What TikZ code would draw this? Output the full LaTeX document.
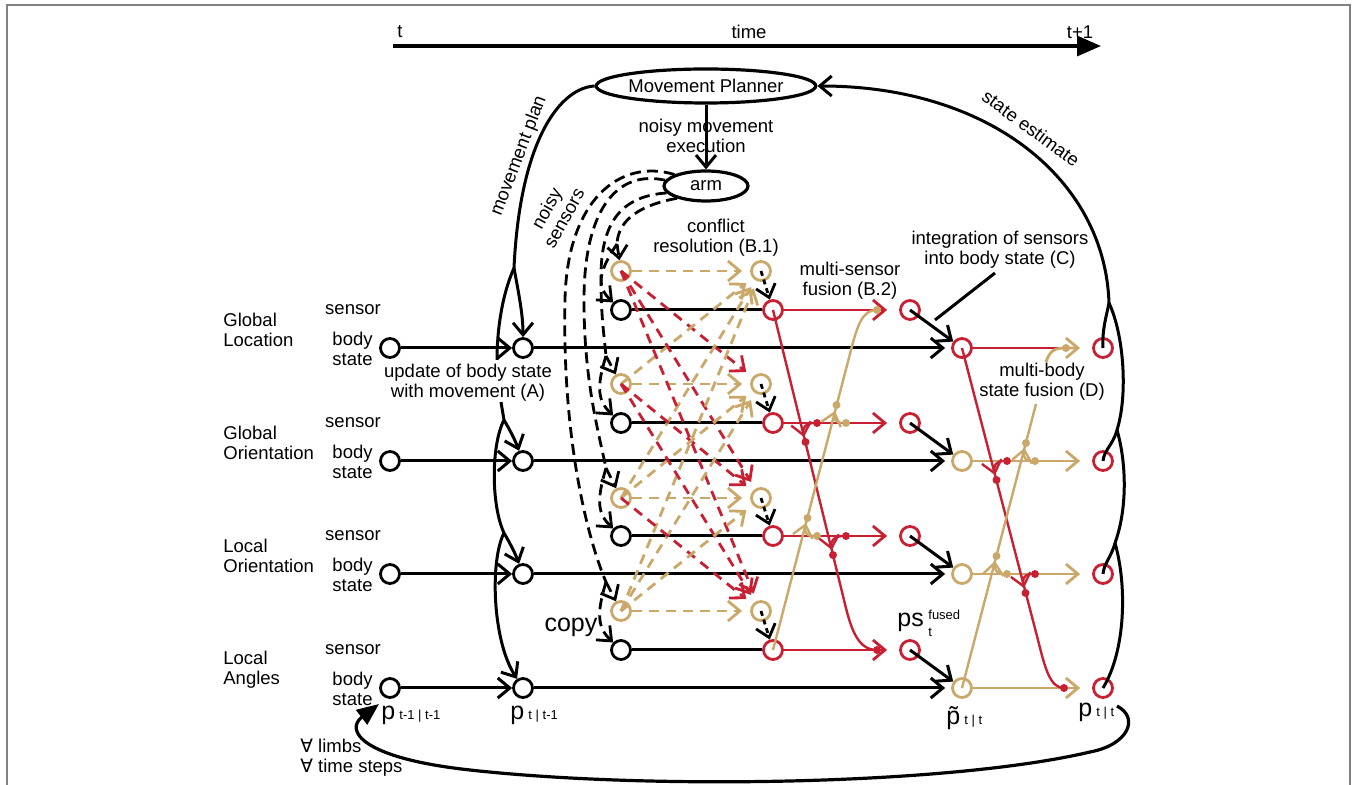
\documentclass[tikz,border=0pt]{standalone}
\usepackage{fontspec}
\setmainfont{Liberation Sans}
\newfontfamily\dejavu{DejaVu Sans}
\usetikzlibrary{arrows.meta,shapes.geometric}
\definecolor{fred}{RGB}{200,32,50}
\definecolor{ftan}{RGB}{201,168,106}
\definecolor{fgray}{RGB}{130,130,130}
\begin{document}
\begin{tikzpicture}[x=0.5pt,y=-0.5pt,
  >={Straight Barb[length=6pt,width=10pt]},
  circ/.style={circle,draw,line width=1.4pt,minimum size=9.5pt,inner sep=0pt,fill=white},
  bc/.style={circ,draw=black},
  rc/.style={circ,draw=fred},
  tc/.style={circ,draw=ftan},
  txt/.style={font=\fontsize{9.25}{10}\selectfont,inner sep=0pt,align=center},
  big/.style={font=\fontsize{12.5}{13}\selectfont,inner sep=0pt},
  small/.style={font=\fontsize{6.5}{7}\selectfont,inner sep=0pt},
  blk/.style={line width=1.5pt,black},
  bdash/.style={line width=1.4pt,black,dash pattern=on 5.5pt off 3pt},
  bdot/.style={line width=1.4pt,black,dash pattern=on 2.5pt off 2pt},
  rdash/.style={line width=1.4pt,fred,dash pattern=on 5pt off 3.5pt},
  tdash/.style={line width=1.4pt,ftan,dash pattern=on 5pt off 3.5pt},
  rline/.style={line width=1.2pt,fred},
  tline/.style={line width=1.2pt,ftan},
  rdot/.style={circle,fill=fred,inner sep=0pt,minimum size=4pt},
  tdot/.style={circle,fill=ftan,inner sep=0pt,minimum size=4pt},
  ellnode/.style={ellipse,draw,line width=1.6pt,inner sep=0pt,fill=white,font=\fontsize{9.25}{10}\selectfont},
]
\useasboundingbox (0,0) rectangle (1357,785);
% frame
\draw[fgray,line width=0.8pt] (7,785) -- (7,5) -- (1350,5) -- (1350,785);

% time axis
\coordinate (t0) at (393,46);
\coordinate (t1) at (1101,46);
\draw[line width=1.7pt,-{Triangle[length=12pt,width=10pt]}] (t0) -- (t1);
\node[txt] (lt) at (400,32) {t};
\node[txt] (ltime) at (749,32) {time};
\node[txt] (lt1) at (1080,32) {t+1};

% planner and arm
\node[ellnode,minimum width=99pt,minimum height=17pt] (MP) at (706,86) {Movement Planner};
\node[ellnode,minimum width=42pt,minimum height=15pt] (arm) at (706,186) {arm};
\draw[blk,->] (MP) -- (arm);
\node[txt] (nme) at (706,136) {noisy movement\\execution};

% row nodes
\foreach \i/\yb/\ys/\yc in {1/348/310/271,2/461/423/384,3/574/536/498,4/688/650/611}{
  \node[bc] (bL\i) at (390,\yb) {};
  \node[bc] (bM\i) at (523,\yb) {};
  \node[bc] (sB\i) at (621,\ys) {};
  \node[tc] (cT\i) at (621,\yc) {};
  \node[tc] (rT\i) at (761,\yc) {};
  \node[rc] (rS\i) at (773,\ys) {};
  \node[rc] (fS\i) at (910,\ys) {};
  \node[rc] (pF\i) at (1103,\yb) {};
  \node[txt] (sen\i) at (353,\ys) {sensor};
  \node[txt,align=right,anchor=east] (bs\i) at (373,\yb+1) {body\\state};
}
\node[rc] (pT1) at (962,348) {};
\node[tc] (pT2) at (962,461) {};
\node[tc] (pT3) at (962,574) {};
\node[tc] (pT4) at (962,688) {};

% row labels
\node[txt,align=left,anchor=west] (rl1) at (223,330) {Global\\Location};
\node[txt,align=left,anchor=west] (rl2) at (223,443) {Global\\Orientation};
\node[txt,align=left,anchor=west] (rl3) at (223,556) {Local\\Orientation};
\node[txt,align=left,anchor=west] (rl4) at (223,670) {Local\\Angles};

% row connectors
\foreach \i/\yb/\ys/\yc in {1/348/310/271,2/461/423/384,3/574/536/498,4/688/650/611}{
  \draw[blk,->] (bL\i) -- (bM\i);
  \draw[blk,->,shorten >=3pt] (bM\i) -- (pT\i);
  \draw[blk] (sB\i) -- (rS\i);
  \draw[rline,line width=1.4pt,->,shorten >=6pt] (rS\i) -- (fS\i);
  \draw[blk,->] (fS\i.center) -- (pT\i);
  \draw[tdash,->,shorten >=4pt] (cT\i) -- (rT\i);
  \draw[bdot,->] (rT\i.center) -- (rS\i);
}
\foreach \i in {2,3,4}{
  \draw[tline,line width=1.4pt,->,shorten >=6pt] (pT\i) -- (pF\i);
}

% conflict resolution cross links
\foreach \i/\j in {1/2,1/3,1/4,2/3,2/4,3/4}{
  \draw[rdash,->,shorten >=4pt] (cT\i.center) -- (rT\j);
  \draw[tdash,->,shorten >=4pt] (cT\j.center) -- (rT\i);
}

% noisy sensor curves
\coordinate (s1) at (617,244);
\coordinate (s2) at (606,356);
\coordinate (s3) at (606,468);
\coordinate (s4) at (606,582);
\draw[bdash] (arm.203) .. controls (640,205) and (618,220) .. (s1);
\draw[bdash] (arm.190) .. controls (625,196) and (600,218) .. (601,280) .. controls (601,315) and (604,335) .. (s2);
\draw[bdash] (arm.172) .. controls (620,170) and (584,205) .. (584,300) .. controls (584,380) and (598,430) .. (s3);
\draw[bdash] (arm.160) .. controls (620,158) and (567,200) .. (565,300) .. controls (562,440) and (588,540) .. (s4);
\foreach \i/\yb/\ys/\yc in {1/348/310/271,2/461/423/384,3/574/536/498,4/688/650/611}{
  \draw[bdash,->] (s\i) -- (cT\i);
  \draw[bdash,->] (s\i) .. controls (596,\yc+4) and (598,\ys-22) .. (sB\i);
}
\node[txt,rotate=61] (lns) at (555,213) {noisy\\sensors};
\node[big] (lcopy) at (571,627) {copy};

% movement plan chain (left)
\coordinate (JA1) at (514,268);
\coordinate (JA1e) at (497,360);
\coordinate (JA2s) at (501,402);
\coordinate (JA2) at (504,420);
\coordinate (JA3) at (504,533);
\draw[blk] (MP.west) .. controls (560,88) and (520,140) .. (JA1);
\draw[blk,->] (JA1) .. controls (519,295) and (523,315) .. (bM1);
\draw[blk] (JA1) .. controls (502,295) and (497,330) .. (JA1e);
\draw[blk] (JA2s) -- (JA2);
\draw[blk,->] (JA2) .. controls (511,432) and (515,440) .. (bM2);
\draw[blk] (JA2) .. controls (491,445) and (491,505) .. (JA3);
\draw[blk,->] (JA3) .. controls (511,545) and (515,553) .. (bM3);
\draw[blk,->] (JA3) .. controls (490,560) and (492,640) .. (bM4);
\node[txt,rotate=69] (lmp) at (519,156) {movement plan};
\node[txt] (lA) at (468,383) {update of body state\\with movement (A)};

% state estimate chain (right)
\coordinate (J1) at (1109,303);
\coordinate (J2) at (1117,430);
\coordinate (J3) at (1115,543);
\draw[blk,->] (J1) .. controls (1105,180) and (990,86) .. (MP.east);
\draw[blk] (J1) .. controls (1124,335) and (1128,395) .. (J2);
\draw[blk] (J2) .. controls (1127,465) and (1127,510) .. (J3);
\draw[blk] (J3) .. controls (1127,585) and (1126,650) .. (pF4.center);
\draw[blk] (J1) .. controls (1106,318) and (1102,330) .. (pF1.center);
\draw[blk] (J2) .. controls (1113,445) and (1104,450) .. (pF2.center);
\draw[blk] (J3) .. controls (1111,558) and (1104,563) .. (pF3.center);
\node[txt,rotate=-36] (lse) at (1031,128) {state estimate};

% multi-sensor fusion (B.2)
\coordinate (rb1) at (844,600);
\coordinate (rbE) at (877,650);
\draw[rline] (rS1.center) -- (rb1) .. controls (851,630) and (858,650) .. (rbE);
\node[rdot] (rdE) at (rbE) {};
\coordinate (tb1) at (851,350);
\coordinate (tbE) at (877,310);
\draw[tline] (rS4.center) -- (tb1) .. controls (858,323) and (863,310) .. (tbE);
\node[tdot] (tdE) at (tbE) {};
\node[rdot] (rd2a) at (817,423) {};
\draw[rline,->] (rd2a) .. controls (806,423) and (802,428) .. (804,437);
\node[rdot] (rd2b) at (805.5,442) {};
\node[tdot] (td2a) at (846,423) {};
\draw[tline,->] (td2a) .. controls (836,423) and (833,418) .. (835,411);
\node[tdot] (td2b) at (836.5,405) {};
\node[tdot] (td3a) at (817,536) {};
\draw[tline,->] (td3a) .. controls (806,536) and (804,531) .. (806,523);
\node[tdot] (td3b) at (807.5,518) {};
\node[rdot] (rd3a) at (846,536) {};
\draw[rline,->] (rd3a) .. controls (835,536) and (830,541) .. (832,550);
\node[rdot] (rd3b) at (833,555) {};
\node[txt] (lB1) at (716,238) {conflict\\resolution (B.1)};
\node[txt] (lB2) at (850,281) {multi-sensor\\fusion (B.2)};

% integration (C)
\node[txt] (lC) at (1000,250) {integration of sensors\\into body state (C)};
\coordinate (cp0) at (995,273);
\coordinate (cp1) at (935,320);
\draw[blk] (cp0) -- (cp1);

% multi-body state fusion (D)
\coordinate (r1e) at (1066,348);
\draw[rline,line width=1.4pt] (pT1) -- (r1e);
\coordinate (rd1) at (1038,640);
\coordinate (rdE2) at (1064,688);
\draw[rline] (pT1.center) -- (rd1) .. controls (1045,668) and (1050,688) .. (rdE2);
\node[rdot] (rdD4) at (rdE2) {};
\coordinate (tdlow) at (1036,404);
\draw[tline] (pT4.center) -- (tdlow);
\coordinate (tu0) at (1046,362);
\draw[tline,line width=1.4pt,->,shorten >=6pt] (tu0) .. controls (1050,350) and (1055,348) .. (r1e) -- (pF1);
\node[tdot] (tdD1) at (r1e) {};
\node[rdot] (rD2a) at (1007,461) {};
\draw[rline,->] (rD2a) .. controls (996,461) and (993,467) .. (995,475);
\node[rdot] (rD2b) at (996.5,480) {};
\node[rdot] (rD3a) at (1035,574) {};
\draw[rline,->] (rD3a) .. controls (1024,574) and (1022,580) .. (1024,588);
\node[rdot] (rD3b) at (1025.5,593) {};
\node[tdot] (tD2a) at (1035,461) {};
\draw[tline,->] (tD2a) .. controls (1025,461) and (1023,456) .. (1024.5,448);
\node[tdot] (tD2b) at (1026,443) {};
\node[tdot] (tD3a) at (1007,574) {};
\draw[tline,->] (tD3a) .. controls (997,574) and (994,569) .. (995,561);
\node[tdot] (tD3b) at (996.5,556) {};
\node[txt] (lD) at (1042,382) {multi-body\\state fusion (D)};

% p labels
\node[anchor=base west,inner sep=0pt] (pl1) at (381,720) {\fontsize{12.5}{13}\selectfont p\,{\fontsize{6.5}{7}\selectfont t-1 | t-1}};
\node[anchor=base west,inner sep=0pt] (pl2) at (510,720) {\fontsize{12.5}{13}\selectfont p\,{\fontsize{6.5}{7}\selectfont t | t-1}};
\node[anchor=base west,inner sep=0pt] (pl3) at (946,725) {\fontsize{12.5}{13}\selectfont \~{p}\,{\fontsize{6.5}{7}\selectfont t | t}};
\node[anchor=base west,inner sep=0pt] (pl4) at (1078,717) {\fontsize{12.5}{13}\selectfont p\,{\fontsize{6.5}{7}\selectfont t | t}};
\node[big,anchor=base west] (lps) at (897,627) {ps};
\node[small,anchor=base west] (lfused) at (928,620) {fused};
\node[small,anchor=base west] (lsubt) at (928,637) {t};

% loop back
\coordinate (lp0) at (1117,706);
\coordinate (lpE) at (379,704);
\draw[line width=1.6pt,-{Triangle[length=11pt,width=9pt]}] (lp0) .. controls (1140,718) and (1128,745) .. (1090,752) .. controls (950,785) and (650,790) .. (470,770) .. controls (360,758) and (345,730) .. (lpE);
\node[txt,align=left,anchor=west] (lall) at (300,758) {{\dejavu ∀} limbs\\{\dejavu ∀} time steps};
\end{tikzpicture}
\end{document}
